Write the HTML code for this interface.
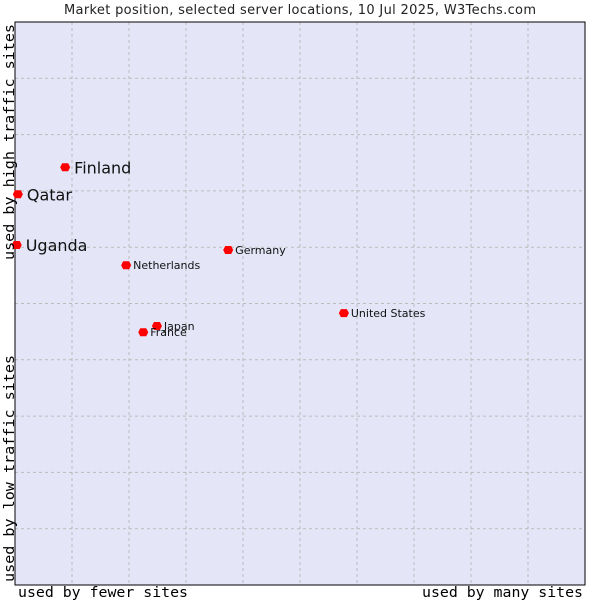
<!DOCTYPE html>
<html><head><meta charset="utf-8"><style>
body{margin:0;background:#fff;width:600px;height:600px;overflow:hidden}
svg text{font-family:"DejaVu Sans","Liberation Sans",sans-serif}
.mono{font-family:"DejaVu Sans Mono",monospace}
</style></head><body>
<svg id="chart" width="600" height="600">
<text x="300" y="14" text-anchor="middle" font-size="13" fill="#222" textLength="472">Market position, selected server locations, 10 Jul 2025, W3Techs.com</text>
<rect x="15" y="22" width="570" height="563" fill="#e4e6f8"/>
<g id="grid"></g>
<rect x="15" y="22" width="570" height="563" fill="none" stroke="#000" stroke-width="1"/>
<g id="points"></g>
<text class="mono" x="18" y="597" font-size="14" fill="#000" textLength="170" lengthAdjust="spacingAndGlyphs">used by fewer sites</text>
<text class="mono" x="422" y="597" font-size="14" fill="#000" textLength="161" lengthAdjust="spacingAndGlyphs">used by many sites</text>
<text class="mono" transform="translate(14,260) rotate(-90)" font-size="14" fill="#000" textLength="236" lengthAdjust="spacingAndGlyphs">used by high traffic sites</text>
<text class="mono" transform="translate(14,582) rotate(-90)" font-size="14" fill="#000" textLength="227" lengthAdjust="spacingAndGlyphs">used by low traffic sites</text>
</svg>
<script>
const names=["Finland","Qatar","Uganda","Netherlands","Germany","United States","Japan","France"];
const xVals=[8.8,0.5,0.3,19.5,37.4,57.7,24.9,22.5];
const yVals=[74.2,69.4,60.4,56.8,59.5,48.3,46.0,44.9];
const big=[true,true,true,false,false,false,false,false];
const X=v=>15+v*5.7, Y=v=>585-v*5.63;
const ns="http://www.w3.org/2000/svg";
const g=document.getElementById('grid'),p=document.getElementById('points');
for(let i=1;i<10;i++){
 const l=document.createElementNS(ns,'line');
 l.setAttribute('x1',X(i*10));l.setAttribute('x2',X(i*10));l.setAttribute('y1',22);l.setAttribute('y2',585);
 l.setAttribute('stroke','#bbb');l.setAttribute('stroke-dasharray','3,3');
 
 
 g.appendChild(l);
 const h=document.createElementNS(ns,'line');
 h.setAttribute('x1',15);h.setAttribute('x2',585);h.setAttribute('y1',Y(i*10));h.setAttribute('y2',Y(i*10));
 h.setAttribute('stroke','#bbb');h.setAttribute('stroke-dasharray','3,3');
 
 
 g.appendChild(h);
}
names.forEach((n,i)=>{
 const cx=X(xVals[i]),cy=Y(yVals[i]);
 const d=document.createElementNS(ns,'path');
 d.setAttribute('d',`M${cx-3},${cy-4} L${cx+3},${cy-4} L${cx+5},${cy} L${cx+3},${cy+4} L${cx-3},${cy+4} L${cx-5},${cy} Z`);
 d.setAttribute('fill','#f00');
 
 
 p.appendChild(d);
 const t=document.createElementNS(ns,'text');
 t.setAttribute('x',cx+(big[i]?9:7));t.setAttribute('y',cy+(big[i]?6:4));
 t.setAttribute('font-size',big[i]?16:11);t.setAttribute('fill','#111');
 t.textContent=n;
 
 
 p.appendChild(t);
});
</script>
</body></html>
